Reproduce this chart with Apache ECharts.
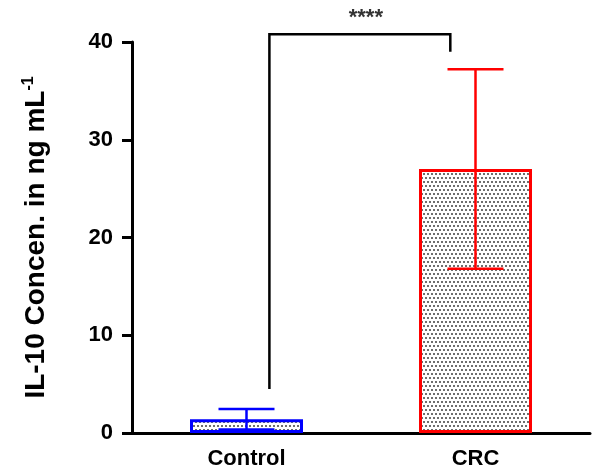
<!DOCTYPE html>
<html>
<head>
<meta charset="utf-8">
<script src="https://cdn.jsdelivr.net/npm/echarts@6/dist/echarts.min.js"></script>
<style>
  html, body { margin: 0; padding: 0; background: #fff; }
  #chart-wrapper { width: 593px; height: 472px; }
</style>
</head>
<body>
<div id="chart-wrapper"></div>
<script>
const categories = ['Control', 'CRC']
const means = [1.4, 27.0]
const sds = [1.05, 10.2]
const barColors = ['#0000ff', '#ff0000']
const yTicks = [0, 10, 20, 30, 40]
// significance bracket: [top, left end, right end] in data units
const bracket = [40.8, 4.5, 39.0]
const sigLabel = '****'

const font = 'Liberation Sans, Arial, sans-serif'

// dotted fill, staggered grey dots
const makeDots = () => {
  const c = document.createElement('canvas')
  c.width = 4
  c.height = 8
  const ctx = c.getContext('2d')
  ctx.fillStyle = '#fff'
  ctx.fillRect(0, 0, 4, 8)
  ctx.fillStyle = '#6e6e6e'
  ctx.fillRect(1, 1, 2, 2)
  ctx.fillRect(3, 5, 1, 2)
  ctx.fillRect(0, 5, 1, 2)
  return c
}
const dots = makeDots()

const chartDom = document.getElementById('chart-wrapper')
const chart = echarts.init(chartDom)

const errData = categories.map((c, i) => [i, means[i] - sds[i], means[i] + sds[i]])

const option = {
  animation: false,
  backgroundColor: '#fff',
  grid: { left: 132, right: 3, top: 42, bottom: 39 },
  xAxis: {
    type: 'category',
    data: categories,
    axisLine: { lineStyle: { color: '#000', width: 3 } },
    axisTick: { alignWithLabel: true, length: 10, lineStyle: { color: '#000', width: 3 } },
    axisLabel: { color: '#000', fontFamily: font, fontWeight: 'bold', fontSize: 22, margin: 15 }
  },
  yAxis: {
    type: 'value',
    min: 0,
    max: 40,
    interval: 10,
    splitLine: { show: false },
    axisLine: { show: true, lineStyle: { color: '#000', width: 3 } },
    axisTick: { show: true, length: 10, lineStyle: { color: '#000', width: 3 } },
    axisLabel: {
      color: '#000', fontFamily: font, fontWeight: 'bold', fontSize: 22, margin: 19,
      formatter: v => (yTicks.includes(v) ? String(v) : '')
    },
    name: 'IL-10 Concen. in ng mL{sup|-1}',
    nameLocation: 'middle',
    nameGap: 81,
    nameTextStyle: {
      color: '#000', fontFamily: font, fontWeight: 'bold', fontSize: 28,
      rich: {
        sup: { color: '#000', fontFamily: font, fontWeight: 'bold', fontSize: 16, verticalAlign: 'top', padding: [0, 0, 14, 0] }
      }
    }
  },
  series: [
    {
      type: 'bar',
      barWidth: 113,
      data: means.map((v, i) => ({
        value: v,
        itemStyle: {
          color: { image: dots, repeat: 'repeat' },
          borderColor: barColors[i],
          borderWidth: 3
        }
      }))
    },
    {
      type: 'custom',
      data: errData,
      z: 5,
      renderItem: (params, api) => {
        const i = api.value(0)
        const lo = api.coord([i, api.value(1)])
        const hi = api.coord([i, api.value(2)])
        const half = 28
        const style = { stroke: barColors[i], lineWidth: 2.5 }
        return {
          type: 'group',
          children: [
            { type: 'line', shape: { x1: hi[0], y1: hi[1], x2: lo[0], y2: lo[1] }, style },
            { type: 'line', shape: { x1: hi[0] - half, y1: hi[1], x2: hi[0] + half, y2: hi[1] }, style },
            { type: 'line', shape: { x1: lo[0] - half, y1: lo[1], x2: lo[0] + half, y2: lo[1] }, style }
          ]
        }
      }
    },
    {
      type: 'custom',
      data: [[0, 1]],
      clip: false,
      z: 6,
      renderItem: (params, api) => {
        const band = api.size([1, 0])[0]
        const l = api.coord([0, bracket[1]])
        const r = api.coord([1, bracket[2]])
        const top = api.coord([0, bracket[0]])[1]
        const lx = l[0] + band * 0.1
        const rx = r[0] - band * 0.11
        return {
          type: 'group',
          children: [
            {
              type: 'polyline',
              shape: { points: [[lx, l[1]], [lx, top], [rx, top], [rx, r[1]]] },
              style: { stroke: '#000', lineWidth: 2.5, fill: null }
            },
            {
              type: 'text',
              style: {
                text: sigLabel, x: (lx + rx) / 2 + 6, y: top - 16,
                align: 'center', verticalAlign: 'middle',
                fontFamily: font, fontWeight: 'bold', fontSize: 22, fill: '#333'
              }
            }
          ]
        }
      }
    }
  ]
}
chart.setOption(option)
</script>
</body>
</html>
